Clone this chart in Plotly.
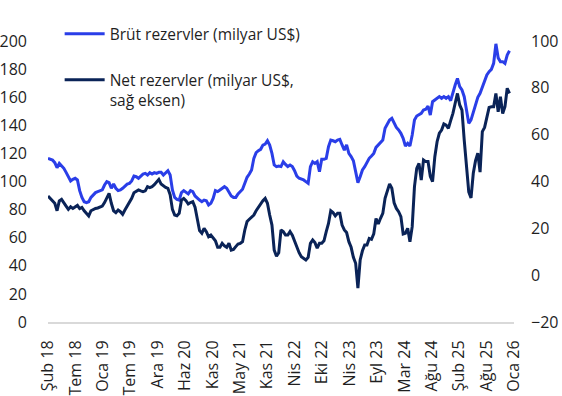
import pandas as pd
import plotly.graph_objects as go

# ---- data (one value every 14 days) ----
start_date = "2018-02-01"

gross_reserves = [
    116.5, 115.8, 115.3, 113.4, 109.8, 112.9, 111, 109.4, 106.5, 103.9,
    100.4, 101.6, 102.3, 101.1, 93.5, 88.7, 85.6, 84.9, 85.6, 88.7,
    90.4, 92.1, 92.8, 93.5, 94, 97.5, 99.9, 99.2, 95.2, 98.2,
    95.2, 93.5, 94, 95.2, 96.8, 98.2, 98.7, 100.4, 103.9, 103.4,
    102.3, 103.9, 105.3, 105.8, 104.6, 106.3, 105.3, 106.3, 105.8, 106.5,
    106.5, 104.6, 106.3, 107.7, 104.6, 94, 88.7, 87.3, 86.8, 92.1,
    93.5, 92.1, 91.2, 93.5, 92.8, 89.7, 88, 86.8, 85.6, 86.8,
    86.3, 83.3, 84.5, 88, 93.5, 92.8, 94, 95.2, 96.3, 95.2,
    92.8, 89.7, 88.7, 88.7, 91.2, 92.8, 94.5, 98.7, 103, 105.3,
    108.2, 116.5, 120.5, 121.9, 122.9, 125.9, 126.6, 129, 125.9, 120,
    111.8, 110.6, 111, 110.6, 114.1, 112.2, 110.6, 111.7, 110.6, 107.7,
    103.9, 102.3, 101.8, 101.1, 99.9, 98.7, 110.6, 114.1, 112.9, 114.1,
    107, 115.8, 115.8, 116.5, 124.8, 129.5, 129, 128.3, 129.5, 130,
    126, 122.4, 126, 120, 117.7, 114.8, 107, 99.2, 103.4, 108.2,
    110.6, 113.4, 116.5, 118.2, 120, 124.3, 126, 127.7, 129.5, 137.9,
    141.4, 143.8, 145, 141.4, 138.5, 136.7, 134.3, 130.7, 125.3, 127.2,
    125.3, 133.1, 143.8, 146.6, 147.3, 148.5, 150.9, 151.4, 153.7, 147.3,
    156.8, 158, 159.2, 160.4, 159.2, 160.4, 159.2, 160.4, 157.5, 163.9,
    168.7, 173.4, 167.5, 165.1, 160.4, 150.9, 141.4, 143.8, 149.7, 154.4,
    159.9, 162.8, 167.5, 171.1, 175.8, 178.2, 179.8, 184.1, 198, 188,
    185.3, 185.3, 184, 190, 193,
]

net_reserves = [
    33.8, 32.7, 31.8, 30.7, 27.5, 31.7, 32.4, 30.7, 29.5, 28.1,
    29.2, 28.5, 29, 29.8, 28.4, 28.9, 27.5, 26.4, 25.3, 27.5,
    28.1, 28.5, 28.7, 29.2, 29.5, 31, 32.8, 34.9, 30.7, 27.5,
    26.7, 27.8, 27.1, 26, 27.8, 29.5, 31, 32.8, 35.2, 36,
    36.4, 36, 35.7, 36, 37.8, 37.4, 37.8, 38.6, 39.9, 40.9,
    38.9, 38.1, 37.5, 37.1, 34.3, 28.1, 25.7, 25.4, 26.4, 32.1,
    32.8, 31.8, 30.4, 31, 31.4, 29, 23.6, 19, 17.9, 20,
    18.6, 16.4, 17.1, 16.1, 14.7, 11.9, 11.9, 13.6, 12.5, 11.9,
    13.6, 10.7, 11, 12.2, 13.3, 13.6, 14.3, 19.3, 22.9, 23.9,
    24.7, 25.7, 27.5, 29, 30, 31.8, 32.8, 30.7, 25.7, 21.4,
    10.7, 8.1, 9.6, 19.3, 18.6, 17.1, 17.1, 18.6, 17.1, 14.7,
    11.5, 9.6, 7.9, 7.1, 6.5, 7.6, 13.6, 15, 13.9, 11.5,
    13.6, 13.6, 14.7, 18.6, 22.1, 27.5, 26.7, 25.3, 26.4, 26.4,
    21.4, 19.3, 18.2, 14.3, 11.9, 7.6, 5.1, -5.5, 6.5, 10.4,
    12.9, 12.9, 15.7, 15.3, 17.6, 24.2, 21.9, 24.3, 26.4, 32.8,
    36.4, 39, 37.1, 30.9, 28.5, 27.1, 25, 17.6, 17.9, 20,
    14.3, 20.7, 37.8, 45.6, 47.7, 40.6, 49.2, 48.5, 48.5, 42.2,
    39.9, 50.6, 57, 60.6, 62, 64.6, 64.1, 62.7, 66, 69.1,
    73.4, 77.6, 72.7, 70.5, 57.7, 44.9, 35.6, 33, 43.5, 48.9,
    52.1, 44, 61.3, 63.1, 67.4, 71.6, 71.9, 71.9, 77.6, 69.8,
    76.2, 69, 72, 79.8, 77.6,
]

tick_labels = [
    "Şub 18", "Tem 18", "Oca 19", "Tem 19", "Ara 19", "Haz 20",
    "Kas 20", "May 21", "Kas 21", "Nis 22", "Eki 22", "Nis 23",
    "Eyl 23", "Mar 24", "Ağu 24", "Şub 25", "Ağu 25", "Oca 26",
]
tick_start = "2018-02-01"
tick_end = "2025-12-25"

gross_name = "Brüt rezervler (milyar US$)"
net_name = "Net rezervler (milyar US$,<br>sağ eksen)"

# ---- build ----
dates = pd.date_range(start_date, periods=len(gross_reserves), freq="14D")
tick_dates = pd.date_range(tick_start, tick_end, periods=len(tick_labels))

FONT = "Open Sans"
TXT = "#1f1f1f"
GROSS_C = "#2a3ee8"
NET_C = "#0a2357"

fig = go.Figure()
fig.add_trace(go.Scatter(
    x=dates, y=gross_reserves, mode="lines", name=gross_name,
    line=dict(color=GROSS_C, width=3), legendgroup="g", yaxis="y",
))
fig.add_trace(go.Scatter(
    x=dates, y=net_reserves, mode="lines", name=net_name,
    line=dict(color=NET_C, width=3), legendgroup="n", yaxis="y2",
))

fig.update_layout(
    width=562, height=396,
    margin=dict(l=48, r=48, t=41, b=74, pad=0, autoexpand=False),
    paper_bgcolor="white", plot_bgcolor="white",
    font=dict(family=FONT, size=16, color=TXT),
    showlegend=True,
    legend=dict(
        x=0.025, y=1.085, xanchor="left", yanchor="top",
        bgcolor="rgba(0,0,0,0)", font=dict(family=FONT, size=15.5, color=TXT),
        traceorder="grouped", tracegroupgap=23, valign="top",
        itemwidth=40,
    ),
    xaxis=dict(
        type="date", automargin=False,
        range=[tick_dates[0], tick_dates[-1]],
        tickvals=list(tick_dates), ticktext=tick_labels,
        tickangle=-90, showgrid=False, zeroline=False,
        showline=True, linecolor="#d9d9d9", linewidth=2,
        ticks="", ticklabelstandoff=10,
        tickfont=dict(family=FONT, size=16, color=TXT),
    ),
    yaxis=dict(
        automargin=False,
        range=[0, 200], dtick=20, showgrid=False, zeroline=False,
        showline=False, ticks="", ticklabelstandoff=20,
        tickfont=dict(family=FONT, size=16, color=TXT),
    ),
    yaxis2=dict(
        automargin=False,
        range=[-20, 100], dtick=20, overlaying="y", side="right",
        showgrid=False, zeroline=False, showline=False, ticks="",
        ticklabelstandoff=16,
        tickfont=dict(family=FONT, size=16, color=TXT),
    ),
)

fig.write_html("out.html")
